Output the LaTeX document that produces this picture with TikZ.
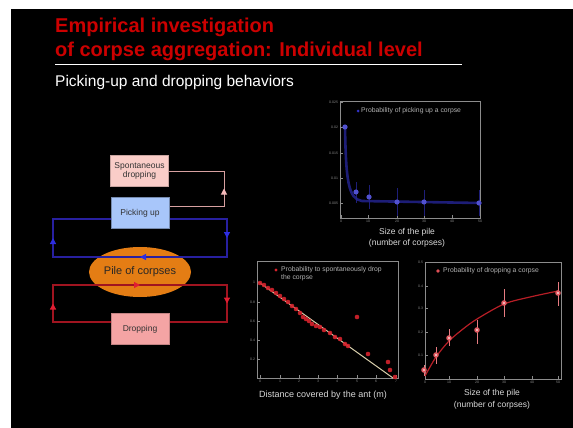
\documentclass[tikz,border=0pt]{standalone}
\usepackage{fontspec}
\setmainfont{Liberation Sans}
\usetikzlibrary{arrows.meta,decorations.markings,shapes.geometric}

\definecolor{titlered}{RGB}{204,0,0}
\definecolor{spontfill}{RGB}{250,205,200}
\definecolor{pickfill}{RGB}{168,198,250}
\definecolor{dropfill}{RGB}{244,164,164}
\definecolor{pileorange}{RGB}{228,125,20}
\definecolor{loopblue}{RGB}{40,32,160}
\definecolor{headblue}{RGB}{45,45,225}
\definecolor{loopred}{RGB}{160,20,32}
\definecolor{headred}{RGB}{225,30,50}
\definecolor{looppink}{RGB}{215,160,160}
\definecolor{headpink}{RGB}{245,185,185}
\definecolor{framegrey}{RGB}{140,140,140}
\definecolor{plotblue}{RGB}{50,50,200}
\definecolor{plotred}{RGB}{215,35,45}
\definecolor{fitline}{RGB}{215,205,170}

\pgfdeclarelayer{slide}
\pgfdeclarelayer{under}
\pgfdeclarelayer{loops}
\pgfsetlayers{slide,under,loops,main}

\tikzset{
  title/.style={text=titlered, font=\fontsize{20}{24}\selectfont\bfseries, inner sep=0pt},
  subtitle/.style={text=white, font=\fontsize{15.5}{18}\selectfont, inner sep=0pt},
  stagebox/.style={rectangle, minimum width=58pt, minimum height=31pt, inner sep=1pt,
    align=center, text=black!80, font=\fontsize{8.5}{9.5}\selectfont, draw=#1, line width=0.6pt},
  midarrow/.style={postaction={decorate}, decoration={markings,
    mark=at position 0.5 with {\arrow{Triangle[length=6pt,width=6pt,color=#1]}}}},
  loopline/.style={draw=#1, line width=1.2pt, line cap=rect},
  frame/.style={draw=framegrey, line width=0.6pt},
  tick/.style={text=framegrey, font=\fontsize{3.5}{4}\selectfont, inner sep=0.8pt},
  axislabel/.style={text=white!85!black, font=\fontsize{8.5}{10}\selectfont, inner sep=0pt, align=center},
  legend/.style={text=white!70!black, font=\fontsize{6.8}{7.6}\selectfont, inner sep=0pt, align=left, anchor=west},
  errbar/.style={draw=#1, line width=0.6pt},
}

\begin{document}
\begin{tikzpicture}[x=1pt,y=-1pt]
  \useasboundingbox (0,0) rectangle (573,428);
  \begin{pgfonlayer}{slide}
    \fill[white] (0,0) rectangle (573,428);
    \fill[black] (11,9) rectangle (573,428);
  \end{pgfonlayer}

  % heading
  \node[title, anchor=base west] (t1) at (55,32.5) {Empirical investigation};
  \node[title, anchor=base west] (t2) at (55,57) {of corpse aggregation: Individual level};
  \draw[white, line width=1pt] (55,65) -- (462,65);
  \node[subtitle, anchor=base west] (sub) at (55,87) {Picking-up and dropping behaviors};

  % behaviour diagram
  \begin{pgfonlayer}{under}
    \node[ellipse, fill=pileorange, minimum width=100pt, minimum height=50pt, inner sep=0pt,
      text=black!85, font=\fontsize{11}{12}\selectfont] (pile) at (140,272) {Pile of corpses};
  \end{pgfonlayer}

  \node[stagebox=spontfill!80!black, fill=spontfill] (spont) at (139.5,171) {Spontaneous\\dropping};
  \node[stagebox=pickfill!70!black, fill=pickfill] (pickup) at (140,213) {Picking up};
  \node[stagebox=dropfill!80!black, fill=dropfill] (drop) at (140,329) {Dropping};

  \coordinate (pTop) at (224,171);
  \coordinate (pBot) at (224,206);
  \coordinate (bNE) at (227,219);
  \coordinate (bSE) at (227,257);
  \coordinate (bSW) at (53,257);
  \coordinate (bNW) at (53,219);
  \coordinate (rNW) at (53,285);
  \coordinate (rNE) at (227,285);
  \coordinate (rSE) at (227,322);
  \coordinate (rSW) at (53,322);

  \begin{pgfonlayer}{loops}
    % spontaneous dropping loop
    \draw[loopline=looppink, line width=1pt] (spont.east) -- (pTop);
    \draw[loopline=looppink, line width=1pt, midarrow=headpink] (pBot) -- (pTop);
    \draw[loopline=looppink, line width=1pt] (pBot) -- (pickup.east |- pBot);
    % picking-up loop
    \draw[loopline=loopblue] (pickup.center |- bNE) -- (bNE);
    \draw[loopline=loopblue, midarrow=headblue] (bNE) -- (bSE);
    \draw[loopline=loopblue, midarrow=headblue] (bSE) -- (bSW);
    \draw[loopline=loopblue, midarrow=headblue] (bSW) -- (bNW);
    \draw[loopline=loopblue] (bNW) -- (pickup.center |- bNW);
    % dropping loop
    \draw[loopline=loopred] (drop.center |- rSW) -- (rSW);
    \draw[loopline=loopred, midarrow=headred] (rSW) -- (rNW);
    \draw[loopline=loopred, midarrow=headred] (rNW) -- (rNE);
    \draw[loopline=loopred, midarrow=headred] (rNE) -- (rSE);
    \draw[loopline=loopred] (rSE) -- (drop.center |- rSE);
  \end{pgfonlayer}

  % chart: probability of picking up a corpse
  \draw[frame] (340,101) rectangle (480,218);
  \foreach \x/\l in {341/0,368/10,397/20,424/30,452/40,480/50} {
    \draw[frame] (\x,218) -- (\x,215);
    \node[tick, anchor=north] (pa\l) at (\x,219) {\l};
  }
  \foreach \y in {102,127,153,178,203} {
    \draw[frame] (340,\y) -- (343,\y);
  }
  \node[tick, anchor=east] (pay1) at (339,102) {0.025};
  \node[tick, anchor=east] (pay2) at (339,127) {0.02};
  \node[tick, anchor=east] (pay3) at (339,153) {0.015};
  \node[tick, anchor=east] (pay4) at (339,178) {0.01};
  \node[tick, anchor=east] (pay5) at (339,203) {0.005};
  \fill[plotblue] (358,111) circle (1.5);
  \node[legend] (pleg) at (361,111) {Probability of picking up a corpse};
  \foreach \x/\a/\b in {356/182/203,369/185/209,397/188/216,424/190/216,479/190/216}
    \draw[errbar=plotblue!60!black] (\x,\a) -- (\x,\b);
  \draw[plotblue!70!black, line width=2.6pt, opacity=0.85]
    (345,127) .. controls (346,180) and (348,199) .. (362,201) -- (480,203);
  \foreach \x/\y in {345/127,356/192,369/197,397/202,424/202,479/203}
    \fill[plotblue!85!white] (\x,\y) circle (2.6);
  \node[axislabel] (px1) at (407,232) {Size of the pile};
  \node[axislabel] (px2) at (407,243) {(number of corpses)};

  % chart: spontaneous drop against distance
  \draw[frame] (257,261) rectangle (398,378);
  \foreach \x/\l in {260/0,280/1,299/2,318/3,337/4,357/5,376/6,396/7} {
    \draw[frame] (\x,378) -- (\x,375);
    \node[tick, anchor=north] (sa\l) at (\x,379) {\l};
  }
  \foreach \y/\l in {282/1,302/0.8,321/0.6,340/0.4,359/0.2} {
    \draw[frame] (257,\y) -- (260,\y);
    \node[tick, anchor=east] (sy\l) at (256,\y) {\l};
  }
  \fill[plotred] (276,270) circle (1.6);
  \node[legend] (sleg) at (281,274) {Probability to spontaneously drop\\the corpse};
  \draw[fitline, line width=1pt] (260,283) -- (393,378);
  \foreach \x/\y in {260/283,264/285,268/288,272/290,276/293,280/296,284/299,288/302,
      292/306,296/309,300/313,303/317,306/319,309/321,312/324,316/326,320/327,
      324/330,330/333,335/337,340/339,345/344,348/346,357/317,368/354,388/362,
      390/370,395/377}
    \fill[plotred, opacity=0.9] (\x,\y) circle (2.3);
  \node[axislabel, font=\fontsize{9}{10}\selectfont] (sx) at (323,395) {Distance covered by the ant (m)};

  % chart: probability of dropping a corpse
  \draw[frame] (425,262) rectangle (561,379);
  \foreach \x/\l in {425/0,449/10,477/20,504/30,532/40,558/50} {
    \draw[frame] (\x,379) -- (\x,376);
    \node[tick, anchor=north] (da\l) at (\x,380) {\l};
  }
  \foreach \y/\l in {262/0.5,286/0.4,308/0.3,332/0.2,355/0.1} {
    \draw[frame] (425,\y) -- (428,\y);
    \node[tick, anchor=east] (dy\l) at (424,\y) {\l};
  }
  \fill[plotred!80!white] (438,271) circle (1.8);
  \node[legend] (dleg) at (443,271) {Probability of dropping a corpse};
  \draw[plotred!85!black, line width=1.2pt] plot[smooth] coordinates
    {(425,376) (436,357) (449,341) (463,329) (477,319) (504,304) (530,297) (558,291)};
  \foreach \x/\y/\a/\b in {424/370/365/376,436/355/347/364,449/338/329/346,
      477/330/320/344,504/303/289/317,558/293/282/306} {
    \draw[errbar=plotred!60!white] (\x,\a) -- (\x,\b);
    \fill[plotred!75!white] (\x,\y) circle (2.8);
    \fill[white!80!plotred] (\x,\y) circle (1.1);
  }
  \node[axislabel] (dx1) at (492,393) {Size of the pile};
  \node[axislabel] (dx2) at (492,405) {(number of corpses)};
\end{tikzpicture}
\end{document}
